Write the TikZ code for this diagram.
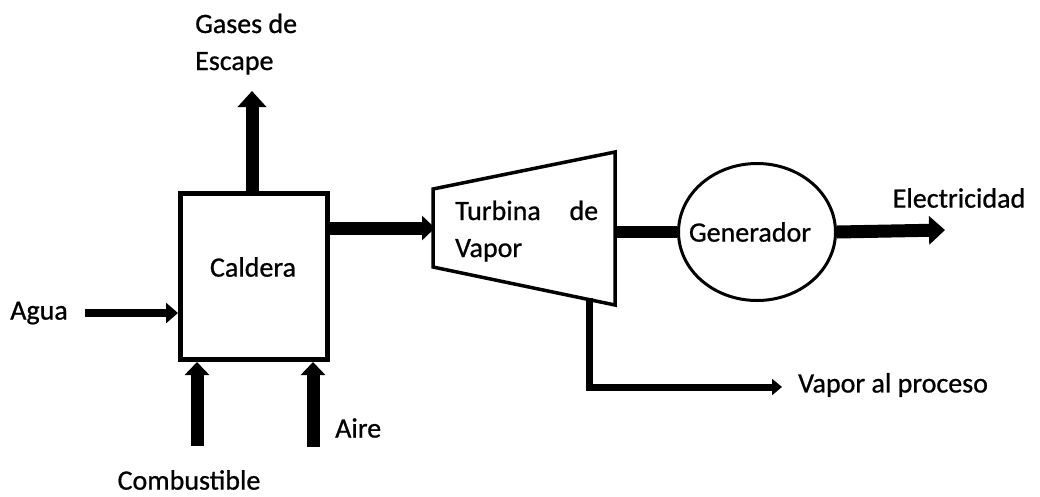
\documentclass[tikz,border=0pt]{standalone}
\usepackage{fontspec}
\setmainfont[FakeBold=0.8]{Carlito}
\usetikzlibrary{arrows.meta,shapes.geometric}
\tikzset{
  lbl/.style={inner sep=0pt, font=\fontsize{28}{37}\selectfont},
  bigflow/.style={line width=13pt, -{Triangle[width=28pt,length=16pt]}},
  midflow/.style={line width=13pt, -{Triangle[width=24pt,length=13pt]}},
  thinflow/.style={line width=8pt, -{Triangle[width=20pt,length=12pt]}},
  procflow/.style={line width=7pt, -{Triangle[width=16pt,length=10pt]}},
  boxstyle/.style={draw, line width=5pt, inner sep=0pt, minimum width=147pt, minimum height=166pt},
  genstyle/.style={draw, ellipse, line width=3pt, inner sep=0pt, minimum width=157pt, minimum height=137pt},
}
\begin{document}
\begin{tikzpicture}[x=1pt,y=-1pt]
\useasboundingbox (0,0) rectangle (1040,496);
% Caldera
\node[boxstyle] (cal) at (254,276.5) {};
\node[lbl] (caltext) at (253,267) {Caldera};
% Turbine
\coordinate (t1) at (433,189);
\coordinate (t2) at (615,152);
\coordinate (t3) at (615,305);
\coordinate (t4) at (433,267);
\draw[line width=3.5pt, line join=miter] (t1) -- (t2) -- (t3) -- (t4) -- cycle;
\node[lbl, anchor=base west, text width=143pt, align=left] (turb) at (455,220) {Turbina\hfill de\\Vapor};
\coordinate (tin) at (435,228);
\coordinate (tout) at (615,232);
\coordinate (tbot) at (589,298);
% Generator
\node[genstyle] (gen) at (757,232) {};
\node[lbl] (gentext) at (750,232) {Generador};
% Texts
\node[lbl, anchor=base west, align=left] (gases) at (195,70) {Gases de\\Escape};
\node[lbl] (agua) at (39,313) {Agua};
\node[lbl] (comb) at (189,480) {Combustible};
\node[lbl, anchor=west] (aire) at (335,428) {Aire};
\node[lbl] (elec) at (959,198) {Electricidad};
\node[lbl, anchor=west] (vap) at (798,385) {Vapor al proceso};
% Flow points
\coordinate (gtop) at (252,91);
\coordinate (aguas) at (85,313);
\coordinate (combs) at (197,446);
\coordinate (aires) at (313,447);
\coordinate (elecend) at (945,230);
\coordinate (vcorner) at (589,387);
\coordinate (vend) at (782,387);
% Connectors
\draw[bigflow] (cal.north -| gtop) -- (gtop);
\draw[midflow] (cal.east |- tin) -- (tin);
\draw[thinflow] (aguas) -- (cal.west |- aguas);
\draw[midflow] (combs) -- (cal.south -| combs);
\draw[midflow] (aires) -- (cal.south -| aires);
\draw[line width=12pt] (tout) -- (gen.west);
\draw[bigflow] (gen.east) -- (elecend);
\draw[procflow] (tbot) -- ([yshift=3.5pt]vcorner) -- (vcorner) -- (vend);
\end{tikzpicture}
\end{document}
